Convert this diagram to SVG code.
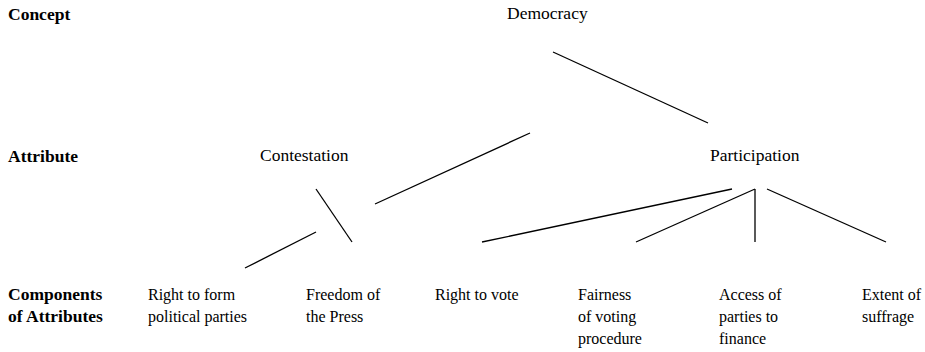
<svg xmlns="http://www.w3.org/2000/svg" width="925" height="352" viewBox="0 0 925 352">
<rect width="925" height="352" fill="#fff"/>
<g id="labels" fill="#000">
<text font-family="Liberation Serif" font-size="17.5" font-weight="bold" x="8" y="20">Concept</text>
<text font-family="Liberation Serif" font-size="17.5" font-weight="bold" x="8" y="162">Attribute</text>
<text font-family="Liberation Serif" font-size="17.5" font-weight="bold" x="8" y="300">Components</text>
<text font-family="Liberation Serif" font-size="17.5" font-weight="bold" x="8" y="322">of Attributes</text>
</g>
<g id="democracy"><text font-family="Liberation Serif" font-size="17.5" x="507" y="19">Democracy</text></g>
<g id="contestation"><text font-family="Liberation Serif" font-size="17.5" x="260" y="161">Contestation</text></g>
<g id="participation"><text font-family="Liberation Serif" font-size="17.5" x="710" y="161">Participation</text></g>
<g id="right-to-form"><text font-family="Liberation Serif" font-size="16" x="148" y="300">Right to form</text><text font-family="Liberation Serif" font-size="16" x="148" y="322">political parties</text></g>
<g id="freedom-press"><text font-family="Liberation Serif" font-size="16" x="306" y="300">Freedom of</text><text font-family="Liberation Serif" font-size="16" x="306" y="322">the Press</text></g>
<g id="right-to-vote"><text font-family="Liberation Serif" font-size="16" x="435" y="300">Right to vote</text></g>
<g id="fairness"><text font-family="Liberation Serif" font-size="16" x="578" y="300">Fairness</text><text font-family="Liberation Serif" font-size="16" x="578" y="322">of voting</text><text font-family="Liberation Serif" font-size="16" x="578" y="344">procedure</text></g>
<g id="access"><text font-family="Liberation Serif" font-size="16" x="719" y="300">Access of</text><text font-family="Liberation Serif" font-size="16" x="719" y="322">parties to</text><text font-family="Liberation Serif" font-size="16" x="719" y="344">finance</text></g>
<g id="extent"><text font-family="Liberation Serif" font-size="16" x="862" y="300">Extent of</text><text font-family="Liberation Serif" font-size="16" x="862" y="322">suffrage</text></g>
<g id="connectors" stroke="#000" stroke-width="1.3" fill="none">
<line x1="553" y1="52" x2="708" y2="123"/>
<line x1="375" y1="204" x2="530" y2="133"/>
<line x1="316" y1="189" x2="352" y2="242"/>
<line x1="245" y1="268" x2="316" y2="232"/>
<line x1="482" y1="242" x2="732" y2="189"/>
<line x1="636" y1="242" x2="755" y2="189"/>
<line x1="755" y1="189" x2="755" y2="242"/>
<line x1="767" y1="189" x2="886" y2="242"/>
</g>
</svg>
